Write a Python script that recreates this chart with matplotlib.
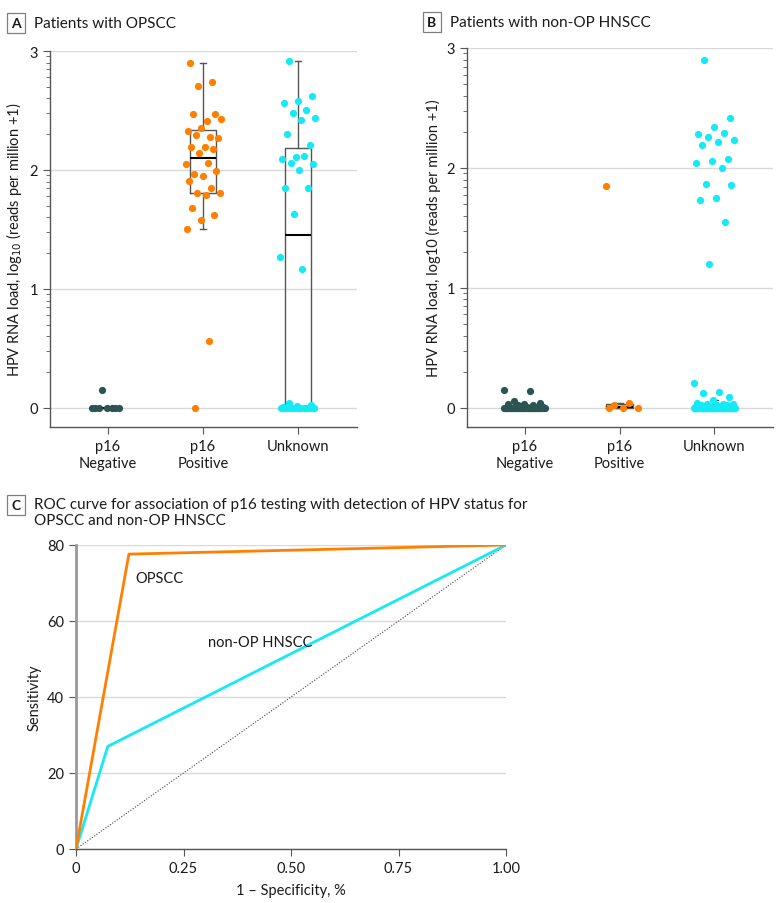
import numpy as np
import matplotlib
matplotlib.use("Agg")
import matplotlib.pyplot as plt

plt.rcParams['font.family'] = ['Lato', 'DejaVu Sans']

# ---------------- data ----------------
categories = ["p16\nNegative", "p16\nPositive", "Unknown"]

# Panel A: OPSCC, log10(reads per million + 1)
a_neg = [0.0, 0.0, 0.0, 0.0, 0.0, 0.0, 0.0, 0.15]
a_pos = [2.90, 2.74, 2.71, 2.43, 2.41, 2.47, 2.47, 2.35, 2.33, 2.28, 2.29, 2.27,
         2.19, 2.19, 2.18, 2.14, 2.05, 2.06, 1.97, 1.99, 1.95, 1.91, 1.85,
         1.81, 1.81, 1.79, 1.68, 1.62, 1.58, 1.50, 0.56, 0.0]
a_unk = [2.92, 2.62, 2.58, 2.56, 2.50, 2.48, 2.44, 2.42, 2.30, 2.21, 2.11, 2.09,
         2.12, 2.06, 2.05, 2.00, 1.85, 1.85, 1.63, 1.27, 1.17,
         0.04, 0.025, 0.02, 0.01, 0.0, 0.0, 0.0, 0.0, 0.0, 0.0, 0.0, 0.0, 0.0,
         0.0, 0.0, 0.0, 0.0]

# Panel B: non-OP HNSCC
b_neg = [0.145, 0.14, 0.06, 0.04, 0.035, 0.03, 0.02, 0.02, 0.01, 0.01] + [0.0] * 40
b_pos = [1.85, 0.04, 0.02, 0.0, 0.0, 0.0]
b_unk = [2.90, 2.42, 2.34, 2.28, 2.29, 2.26, 2.23, 2.22, 2.19, 2.075, 2.055, 2.04,
         2.00, 1.87, 1.86, 1.75, 1.73, 1.55, 1.20,
         0.21, 0.13, 0.12, 0.09, 0.065, 0.04, 0.035, 0.03, 0.03, 0.02, 0.02,
         0.02, 0.01, 0.01, 0.01] + [0.0] * 70

# Panel C: ROC curves
roc_fpr_op = [0.0, 0.123, 1.0]
roc_sens_op = [0.0, 77.6, 80.0]
roc_fpr_nonop = [0.0, 0.074, 1.0]
roc_sens_nonop = [0.0, 27.0, 80.0]
ref_fpr = [0.0, 1.0]
ref_sens = [0.0, 80.0]

col_neg = '#2B5453'
col_pos = '#FF8000'
col_unk = '#14EAF5'
grid_col = '#D9D9D9'
spine_col = '#555555'
text_col = '#1a1a1a'

fig = plt.figure(figsize=(7.8, 9.04), dpi=100)


def px_axes(left, top, right, bottom):
    W, H = 780.0, 904.0
    return fig.add_axes([left / W, 1 - bottom / H, (right - left) / W, (bottom - top) / H])


def jitter(n, half, phase=0.0):
    # deterministic spread (golden-ratio sequence) for horizontal positions
    k = np.arange(n)
    return ((k * 0.6180339887 + phase) % 1.0 - 0.5) * 2 * half


def strip_panel(ax, groups, colors, halfw, ylabel):
    for i, (vals, c) in enumerate(zip(groups, colors)):
        vals = np.asarray(vals, dtype=float)
        bp = ax.boxplot([vals], positions=[i], widths=0.28, showfliers=False,
                        whis=1.5, patch_artist=False, manage_ticks=False,
                        capwidths=0.07,
                        boxprops=dict(color='#555555', lw=1.0),
                        whiskerprops=dict(color='#555555', lw=1.0),
                        capprops=dict(color='#555555', lw=1.0),
                        medianprops=dict(color='black', lw=1.5))
        for art in sum(bp.values(), []):
            art.set_zorder(2)
        xs = i + jitter(len(vals), halfw[i], phase=0.13 * i)
        ax.scatter(xs, vals, s=27, color=c, zorder=3, clip_on=False, linewidths=0)
    ax.set_xlim(-0.61, 2.62)
    ax.set_ylim(-0.16, 3.0)
    ax.set_yticks([0, 1, 2, 3])
    ax.set_yticklabels(['0', '1', '2', '3'])
    minors = []
    for dec in range(3):
        for k in range(2, 10):
            minors.append(dec + np.log10(k))
    ax.set_yticks(minors, minor=True)
    ax.set_xticks([0, 1, 2])
    ax.set_xticklabels(categories)
    ax.grid(axis='y', which='major', color=grid_col, lw=1.0, zorder=0)
    ax.set_axisbelow(True)
    for s in ['top', 'right']:
        ax.spines[s].set_visible(False)
    for s in ['left', 'bottom']:
        ax.spines[s].set_color(spine_col)
        ax.spines[s].set_linewidth(1.0)
    ax.tick_params(axis='both', which='major', labelsize=10.5, colors=spine_col,
                   labelcolor=text_col, length=5)
    ax.tick_params(axis='y', which='minor', length=3, colors=spine_col)
    ax.tick_params(axis='x', which='major', pad=4)
    ax.set_ylabel(ylabel, fontsize=10.5, color=text_col, labelpad=4)


def panel_label(x, y, letter, text, fs=11):
    fig.text(x / 780.0, 1 - y / 904.0, letter, fontsize=10, fontweight='bold',
             ha='center', va='center', color=text_col,
             bbox=dict(boxstyle='square,pad=0.3', fc='white', ec='#7f7f7f', lw=0.9))
    return fig.text((x + 18) / 780.0, 1 - y / 904.0, text, fontsize=fs, ha='left',
                    va='center', color=text_col, linespacing=1.1)


# Panel A
axA = px_axes(50, 52, 357, 428)
strip_panel(axA, [a_neg, a_pos, a_unk], [col_neg, col_pos, col_unk],
            [0.17, 0.19, 0.19],
            'HPV RNA load, log$_{10}$ (reads per million +1)')
panel_label(16, 24, 'A', 'Patients with OPSCC')

# Panel B
axB = px_axes(467, 49, 773, 428)
strip_panel(axB, [b_neg, b_pos, b_unk], [col_neg, col_pos, col_unk],
            [0.22, 0.2, 0.22],
            'HPV RNA load, log10 (reads per million +1)')
panel_label(432, 23, 'B', 'Patients with non-OP HNSCC')

# Panel C
axC = px_axes(76, 546, 506, 850)
axC.plot(ref_fpr, ref_sens, color='#444444', lw=0.8, ls=(0, (1, 1.5)), zorder=2)
axC.plot(roc_fpr_nonop, roc_sens_nonop, color=col_unk, lw=2.0, zorder=3)
axC.plot(roc_fpr_op, roc_sens_op, color=col_pos, lw=2.0, zorder=4)
axC.set_xlim(0, 1)
axC.set_ylim(0, 80)
axC.set_xticks([0, 0.25, 0.5, 0.75, 1.0])
axC.set_xticklabels(['0', '0.25', '0.50', '0.75', '1.00'])
axC.set_yticks([0, 20, 40, 60, 80])
axC.grid(axis='y', color=grid_col, lw=1.0, zorder=0)
axC.set_axisbelow(True)
for s in ['top', 'right']:
    axC.spines[s].set_visible(False)
axC.spines['left'].set_color('#999999')
axC.spines['left'].set_linewidth(2.0)
axC.spines['bottom'].set_color(spine_col)
axC.spines['bottom'].set_linewidth(1.0)
axC.tick_params(axis='both', labelsize=10.5, colors=spine_col, labelcolor=text_col, length=5)
axC.set_xlabel('1 – Specificity, %', fontsize=10.5, color=text_col, labelpad=6)
axC.set_ylabel('Sensitivity', fontsize=10.5, color=text_col, labelpad=4)
axC.text(0.137, 71.3, 'OPSCC', fontsize=10.5, color=text_col, ha='left', va='center')
axC.text(0.307, 54.5, 'non-OP HNSCC', fontsize=10.5, color=text_col, ha='left', va='center')
tC = panel_label(16, 506, 'C', 'ROC curve for association of p16 testing with detection of HPV status for\nOPSCC and non-OP HNSCC')
tC.set_position((34 / 780.0, 1 - 513 / 904.0))

fig.savefig('out.png', dpi=100)
